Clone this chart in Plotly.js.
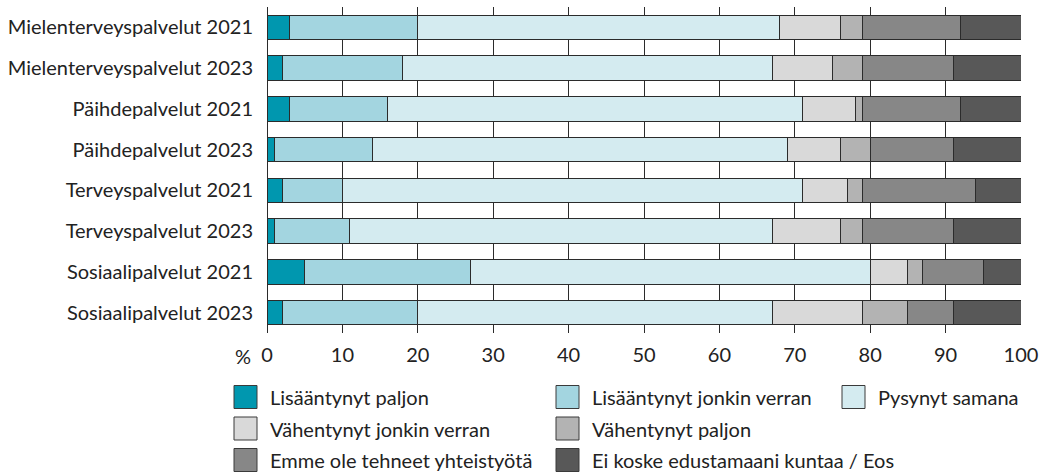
<!DOCTYPE html>
<html>
<head>
<meta charset="utf-8">
<script src="https://cdn.plot.ly/plotly-3.0.1.min.js"></script>
<style>
  html, body { margin: 0; padding: 0; background: #fff; }
  #chart { width: 1046px; height: 476px; }
</style>
</head>
<body>
<div id="chart"></div>
<script>
// ---- Data ----
const categories = [
  "Mielenterveyspalvelut 2021",
  "Mielenterveyspalvelut 2023",
  "Päihdepalvelut 2021",
  "Päihdepalvelut 2023",
  "Terveyspalvelut 2021",
  "Terveyspalvelut 2023",
  "Sosiaalipalvelut 2021",
  "Sosiaalipalvelut 2023"
];
const seriesNames = [
  "Lisääntynyt paljon",
  "Lisääntynyt jonkin verran",
  "Pysynyt samana",
  "Vähentynyt jonkin verran",
  "Vähentynyt paljon",
  "Emme ole tehneet yhteistyötä",
  "Ei koske edustamaani kuntaa / Eos"
];
const lisaantynytPaljon   = [3, 2, 3, 1, 2, 1, 5, 2];
const lisaantynytJonkin   = [17, 16, 13, 13, 8, 10, 22, 18];
const pysynytSamana       = [48, 49, 55, 55, 61, 56, 53, 47];
const vahentynytJonkin    = [8, 8, 7, 7, 6, 9, 5, 12];
const vahentynytPaljon    = [3, 4, 1, 4, 2, 3, 2, 6];
const emmeOleTehneet      = [13, 12, 13, 11, 15, 12, 8, 6];
const eiKoske             = [8, 9, 8, 9, 6, 9, 5, 9];
const xTickValues = [0, 10, 20, 30, 40, 50, 60, 70, 80, 90, 100];
const axisUnit = "%";

const seriesValues = [lisaantynytPaljon, lisaantynytJonkin, pysynytSamana,
  vahentynytJonkin, vahentynytPaljon, emmeOleTehneet, eiKoske];

// ---- Style ----
const colors = ["#0097af", "#a3d5e0", "#d4ebf0", "#d9d9d9", "#b3b3b3", "#878787", "#585858"];
const FONT = "Lato, 'Source Sans Pro', Roboto, sans-serif";
const FS = 20;
const TXT = "#222222";
const W = 1046, H = 476;
const M = { l: 267, r: 25, t: 7, b: 143 };
const PW = W - M.l - M.r, PH = H - M.t - M.b;
const px2x = p => (p - M.l) / PW;
const px2y = p => (H - M.b - p) / PH;

const traces = seriesValues.map((vals, i) => ({
  type: "bar",
  orientation: "h",
  name: seriesNames[i],
  y: categories,
  x: vals,
  marker: { color: colors[i], line: { color: "#2b2b2b", width: 1 } },
  showlegend: false,
  hovertemplate: "%{y}<br>" + seriesNames[i] + ": %{x} %<extra></extra>"
}));

// custom legend (larger swatches as in the reference)
const legendCols = [234, 556, 842];
const legendRows = [397, 428.5, 460];
const legendOrder = [[0,0],[1,0],[2,0],[0,1],[1,1],[0,2],[1,2]]; // [col,row] per series
const SW = 23;
const shapes = [];
const annotations = [];
seriesNames.forEach((name, i) => {
  const [c, r] = legendOrder[i];
  const x0 = legendCols[c], yc = legendRows[r];
  shapes.push({
    type: "rect", xref: "paper", yref: "paper",
    x0: px2x(x0), x1: px2x(x0 + SW), y0: px2y(yc - SW / 2), y1: px2y(yc + SW / 2),
    fillcolor: colors[i], line: { color: "#3a3a3a", width: 1 }
  });
  annotations.push({
    xref: "paper", yref: "paper", x: px2x(x0 + SW + 11), y: px2y(yc),
    xanchor: "left", yanchor: "middle", showarrow: false, text: name,
    font: { family: FONT, size: FS, color: TXT }
  });
});
annotations.push({
  xref: "paper", yref: "paper", x: px2x(253), y: px2y(356),
  xanchor: "right", yanchor: "middle", showarrow: false, text: axisUnit,
  font: { family: FONT, size: FS, color: TXT }
});

const layout = {
  width: W, height: H,
  margin: M,
  paper_bgcolor: "#fff", plot_bgcolor: "#fff",
  barmode: "stack",
  bargap: 0.4,
  font: { family: FONT, size: FS, color: TXT },
  xaxis: {
    range: [0, 100], tickvals: xTickValues, ticks: "", showgrid: true,
    gridcolor: "#2b2b2b", gridwidth: 1, zeroline: true, zerolinecolor: "#2b2b2b",
    zerolinewidth: 1, showline: false, fixedrange: true, ticklabelstandoff: 8,
    tickfont: { family: FONT, size: FS, color: TXT }
  },
  yaxis: {
    autorange: "reversed", type: "category", ticks: "", showgrid: false,
    showline: false, zeroline: false, fixedrange: true, ticklabelstandoff: 13,
    tickfont: { family: FONT, size: FS, color: TXT }
  },
  shapes: shapes,
  annotations: annotations,
  showlegend: false
};

Plotly.newPlot("chart", traces, layout, { displayModeBar: false, staticPlot: false });
</script>
</body>
</html>
